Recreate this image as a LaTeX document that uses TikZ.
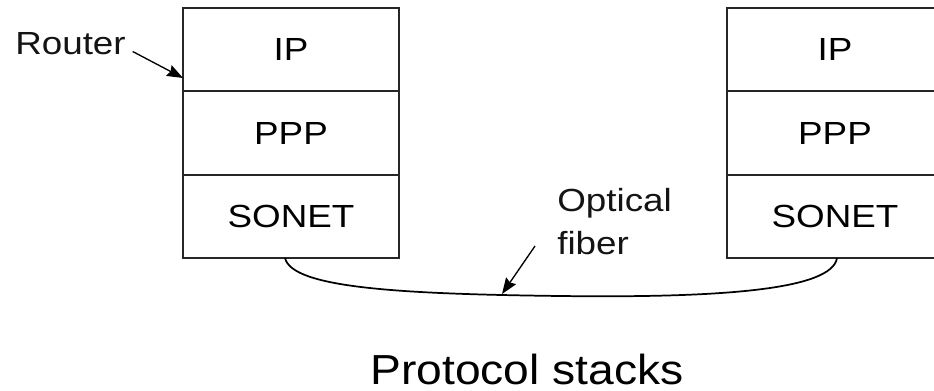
\documentclass[tikz,border=0pt]{standalone}
\usepackage{fontspec}
\setmainfont{Liberation Sans}[FakeStretch=1.15]
\newfontfamily\titlefont{Liberation Sans}[FakeStretch=1.1]
\usetikzlibrary{arrows.meta}
\tikzset{
  layerbox/.style={draw=black!85, line width=1.4pt, minimum width=162pt, minimum height=62.5pt,
    inner sep=0pt, outer sep=0pt, font=\fontsize{24}{28}\selectfont},
  lbl/.style={inner sep=0pt, font=\fontsize{24}{32.25}\selectfont, text=black!92},
  ptr/.style={line width=1pt, -{Stealth[length=12pt,width=9pt,inset=1.5pt]}},
  fiberline/.style={line width=1.3pt}
}
\begin{document}
\begin{tikzpicture}[x=0.75pt,y=-0.75pt]
\clip (0,0) rectangle (934,391);
% left stack
\node[layerbox, anchor=north] (lip) at (291,8) {IP};
\node[layerbox, anchor=north] (lppp) at (lip.south) {PPP};
\node[layerbox, anchor=north] (lsonet) at (lppp.south) {SONET};
% right stack
\node[layerbox, anchor=north] (rip) at (835,8) {IP};
\node[layerbox, anchor=north] (rppp) at (rip.south) {PPP};
\node[layerbox, anchor=north] (rsonet) at (rppp.south) {SONET};
% fiber
\coordinate (fmid) at (560,296);
\draw[fiberline] ([xshift=-4.5pt]lsonet.south) .. controls (292,288) and (400,294) .. (fmid)
  .. controls (720,298) and (832,290) .. ([xshift=1.5pt]rsonet.south);
% labels
\node[lbl, anchor=base west] (router) at (15,55) {Router};
\coordinate (rtip) at (183,78);
\draw[ptr] ([xshift=5pt,yshift=-5.5pt]router.east) -- (rtip);
\node[lbl, anchor=north west, align=left] (optical) at (557,188) {Optical\\fiber};
\coordinate (ftip) at (502,294);
\draw[ptr] ([xshift=-16.5pt,yshift=6.75pt]optical.south west) -- (ftip);
\node[inner sep=0pt, text depth=0pt, anchor=base, font=\fontsize{31.5}{36}\selectfont\titlefont] (title) at (527,384) {Protocol stacks};
\end{tikzpicture}
\end{document}
